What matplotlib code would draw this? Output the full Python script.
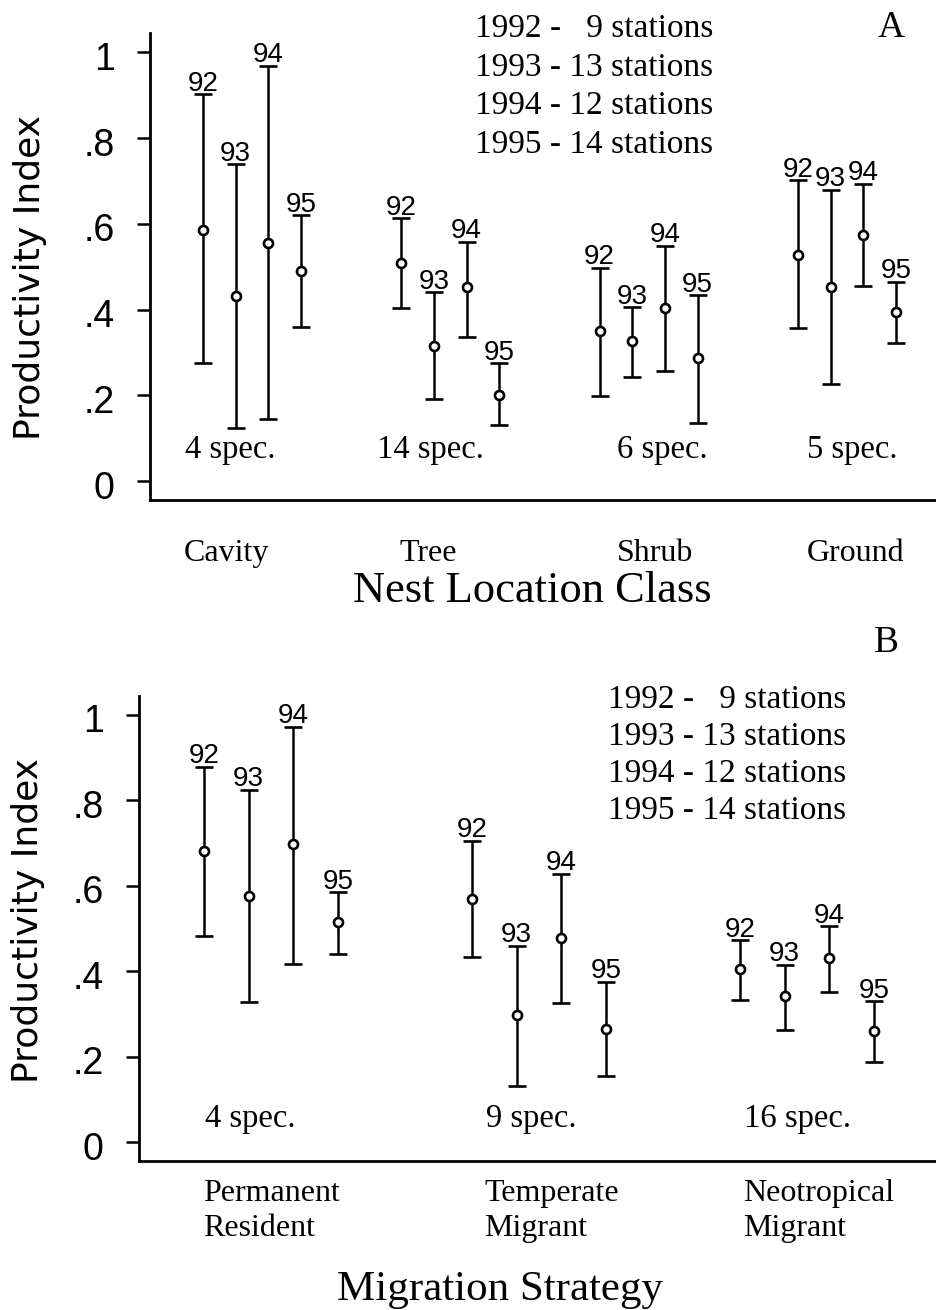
import matplotlib
matplotlib.use("Agg")
import matplotlib.pyplot as plt
from matplotlib.transforms import ScaledTranslation

W, H = 936, 1310
SERIF = "Liberation Serif"
SANS = "Liberation Sans"

years = ["92", "93", "94", "95"]
y_ticks = [0, 0.2, 0.4, 0.6, 0.8, 1.0]
y_tick_labels = ["0", ".2", ".4", ".6", ".8", "1"]

# panel A - nest location class (rows = class, cols = 92..95)
nest_classes = ["Cavity", "Tree", "Shrub", "Ground"]
nest_species = ["4 spec.", "14 spec.", "6 spec.", "5 spec."]
nest_mean = [
    [0.586, 0.432, 0.556, 0.491],
    [0.508, 0.316, 0.452, 0.202],
    [0.351, 0.327, 0.403, 0.288],
    [0.527, 0.453, 0.574, 0.395],
]
nest_upper = [
    [0.902, 0.739, 0.969, 0.620],
    [0.613, 0.440, 0.558, 0.275],
    [0.498, 0.405, 0.549, 0.434],
    [0.702, 0.679, 0.693, 0.465],
]
nest_lower = [
    [0.275, 0.124, 0.144, 0.360],
    [0.403, 0.191, 0.337, 0.131],
    [0.198, 0.243, 0.257, 0.136],
    [0.356, 0.226, 0.456, 0.323],
]

# panel B - migration strategy
migr_classes = ["Permanent\nResident", "Temperate\nMigrant", "Neotropical\nMigrant"]
migr_species = ["4 spec.", "9 spec.", "16 spec."]
migr_mean = [
    [0.682, 0.577, 0.697, 0.515],
    [0.570, 0.298, 0.477, 0.265],
    [0.405, 0.343, 0.430, 0.260],
]
migr_upper = [
    [0.879, 0.825, 0.972, 0.585],
    [0.705, 0.460, 0.628, 0.375],
    [0.473, 0.415, 0.505, 0.330],
]
migr_lower = [
    [0.482, 0.328, 0.417, 0.440],
    [0.433, 0.132, 0.325, 0.155],
    [0.333, 0.263, 0.352, 0.187],
]

stations = ["1992 -   9 stations", "1993 - 13 stations",
            "1994 - 12 stations", "1995 - 14 stations"]


def fx(px):
    return px / W


def fy(py):
    return 1 - py / H


def draw_panel(ax, mean, lower, upper, species, spec_dx, spec_y, step, xlim):
    for g in range(len(mean)):
        for k, yr in enumerate(years):
            x = g + (k - 1.5) * step
            m = mean[g][k]
            ax.errorbar([x], [m], yerr=[[m - lower[g][k]], [upper[g][k] - m]],
                        fmt="o", ms=6.5, mfc="white", mec="black", mew=1.9,
                        ecolor="black", elinewidth=1.8, capsize=6.5, capthick=2.0,
                        zorder=3)
            ax.annotate(yr, (x, upper[g][k]), xytext=(0, 2.5), textcoords="offset points",
                        ha="center", va="baseline", fontsize=20, family=SANS)
        ax.text(g + spec_dx[g], spec_y, species[g], ha="center", va="baseline",
                fontsize=23.5, family=SERIF)
    ax.set_xlim(*xlim)
    ax.set_ylim(-0.044, 1.045)
    for s in ["top", "right"]:
        ax.spines[s].set_visible(False)
    for s in ["left", "bottom"]:
        ax.spines[s].set_linewidth(2.0)
    ax.set_yticks(y_ticks)
    ax.set_yticklabels(y_tick_labels, fontsize=27, family=SANS)
    ax.tick_params(axis="y", direction="out", length=9.5, width=1.8, pad=16)
    ax.tick_params(axis="x", length=0)
    off = ScaledTranslation(0, -3.5 / 100, ax.figure.dpi_scale_trans)
    for lab in ax.get_yticklabels():
        lab.set_transform(lab.get_transform() + off)


fig = plt.figure(figsize=(W / 100, H / 100), dpi=100)

# ---- panel A
axA = fig.add_axes([fx(150), fy(500), fx(786), 467 / H])
draw_panel(axA, nest_mean, nest_lower, nest_upper, nest_species,
           [-0.111, -0.101, 0.071, 0.025], 0.054, 0.165, (-0.514, 3.449))
axA.set_xticks([-0.13, 0.89, 2.03, 3.045])
axA.set_xticklabels(nest_classes, fontsize=23, family=SERIF)
axA.tick_params(axis="x", pad=28)
axA.set_xlabel("Nest Location Class", fontsize=32, family=SERIF, va="baseline")
axA.xaxis.set_label_coords(0.487, -0.2184)
axA.set_ylabel("Productivity Index", fontsize=26, family="DejaVu Sans",
               va="center", ha="center")
axA.yaxis.set_label_coords(-0.1527, 0.4775)

fig.text(fx(891), fy(37), "A", fontsize=27, family=SERIF, ha="center", va="baseline")
for i, s in enumerate(stations):
    fig.text(fx(475), fy(37 + 38.7 * i), s, fontsize=24, family=SERIF, va="baseline")

# ---- panel B
axB = fig.add_axes([fx(139), fy(1161), fx(797), 465.4 / H])
draw_panel(axB, migr_mean, migr_lower, migr_upper, migr_species,
           [-0.078, -0.03, -0.037], 0.035, 0.167, (-0.4925, 2.481))
axB.set_xticks([])
for g, lab in enumerate(migr_classes):
    axB.text(g + [-0.254, -0.205, -0.239][g], -0.085, lab, ha="left", va="top",
             fontsize=23, family=SERIF, linespacing=1.3)
axB.set_xlabel("Migration Strategy", fontsize=31, family=SERIF, va="baseline")
axB.xaxis.set_label_coords(0.453, -0.2987)
axB.set_ylabel("Productivity Index", fontsize=26, family="DejaVu Sans",
               va="center", ha="center")
axB.yaxis.set_label_coords(-0.1393, 0.5157)

fig.text(fx(886), fy(652), "B", fontsize=27, family=SERIF, ha="center", va="baseline")
for i, s in enumerate(stations):
    fig.text(fx(608), fy(708 + 37 * i), s, fontsize=24, family=SERIF, va="baseline")

fig.savefig("out.png", dpi=100)
